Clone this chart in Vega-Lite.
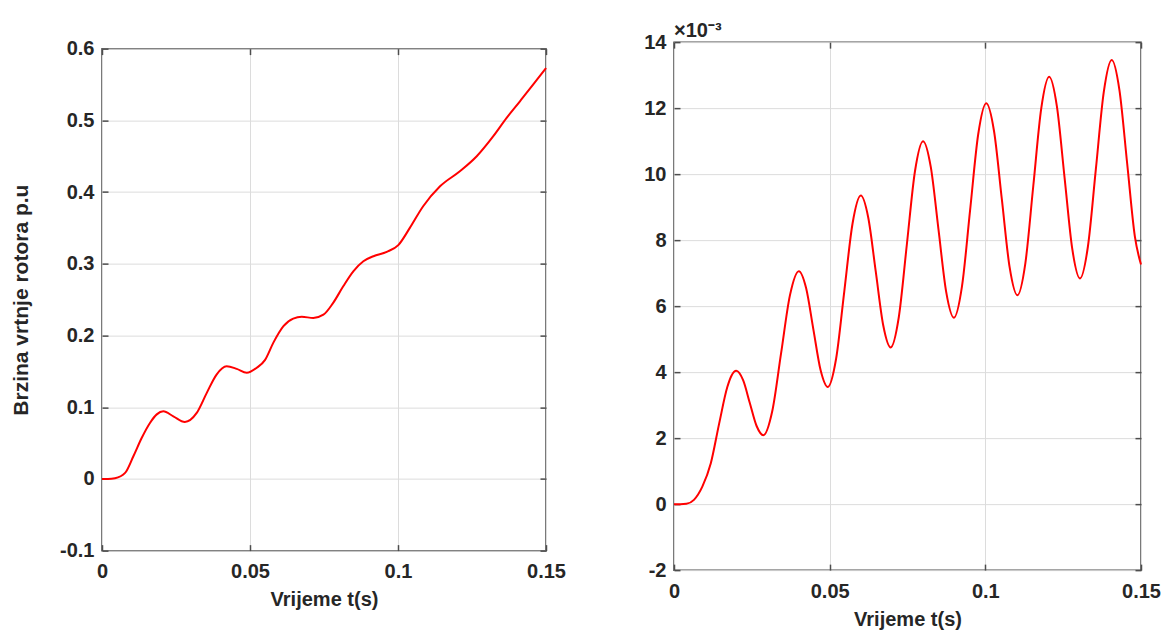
{
  "$schema": "https://vega.github.io/schema/vega-lite/v6.json",
  "background": "white",
  "padding": {"left": 9, "top": 20, "right": 5, "bottom": 5},
  "center": true,
  "config": {
    "font": "Liberation Sans",
    "view": {"stroke": "#4d4d4d", "strokeWidth": 1.5},
    "title": {"fontSize": 20, "font": "Liberation Sans"},
    "axis": {
      "labelFont": "Liberation Sans", "labelFontWeight": "bold", "labelFontSize": 20, "labelColor": "#262626",
      "titleFont": "Liberation Sans", "titleFontWeight": "bold", "titleFontSize": 20, "titleColor": "#262626",
      "gridColor": "#dcdcdc", "gridWidth": 1, "domain": false,
      "tickColor": "#4d4d4d", "tickWidth": 1.5, "tickSize": -6
    }
  },
  "datasets": {
    "left": [
      {"t": 0, "v": 0}, {"t": 0.002, "v": 0}, {"t": 0.0044, "v": 0.001}, {"t": 0.0078, "v": 0.0084},
      {"t": 0.0106, "v": 0.0316}, {"t": 0.0134, "v": 0.057}, {"t": 0.0162, "v": 0.078}, {"t": 0.0185, "v": 0.09},
      {"t": 0.0207, "v": 0.0943}, {"t": 0.0241, "v": 0.0873}, {"t": 0.028, "v": 0.0795}, {"t": 0.032, "v": 0.092},
      {"t": 0.0354, "v": 0.12}, {"t": 0.0387, "v": 0.1455}, {"t": 0.0421, "v": 0.157}, {"t": 0.0455, "v": 0.1535},
      {"t": 0.0489, "v": 0.148}, {"t": 0.0523, "v": 0.155}, {"t": 0.0551, "v": 0.166}, {"t": 0.0579, "v": 0.19},
      {"t": 0.0613, "v": 0.213}, {"t": 0.0646, "v": 0.2236}, {"t": 0.0675, "v": 0.226}, {"t": 0.0714, "v": 0.2245},
      {"t": 0.0748, "v": 0.229}, {"t": 0.0781, "v": 0.2455}, {"t": 0.0815, "v": 0.2686}, {"t": 0.0849, "v": 0.2895},
      {"t": 0.0883, "v": 0.3035}, {"t": 0.0917, "v": 0.3105}, {"t": 0.0962, "v": 0.3166}, {"t": 0.1001, "v": 0.326},
      {"t": 0.104, "v": 0.35}, {"t": 0.1085, "v": 0.3802}, {"t": 0.1142, "v": 0.408}, {"t": 0.1209, "v": 0.429},
      {"t": 0.1266, "v": 0.45}, {"t": 0.1322, "v": 0.478}, {"t": 0.1367, "v": 0.5035}, {"t": 0.1412, "v": 0.5266},
      {"t": 0.1457, "v": 0.55}, {"t": 0.15, "v": 0.573}
    ],
    "right": [
      {"t": 0, "v": 0}, {"t": 0.002, "v": 0}, {"t": 0.004, "v": 0.01}, {"t": 0.0064, "v": 0.13},
      {"t": 0.0091, "v": 0.53}, {"t": 0.0118, "v": 1.23}, {"t": 0.0145, "v": 2.44}, {"t": 0.0171, "v": 3.54},
      {"t": 0.0185, "v": 3.9}, {"t": 0.02, "v": 4.04},
      {"t": 0.0222, "v": 3.755}, {"t": 0.02435, "v": 3.065}, {"t": 0.0265, "v": 2.375}, {"t": 0.0287, "v": 2.09},
      {"t": 0.03155, "v": 2.816}, {"t": 0.0344, "v": 4.575}, {"t": 0.03725, "v": 6.334}, {"t": 0.0401, "v": 7.06},
      {"t": 0.04243, "v": 6.548}, {"t": 0.04475, "v": 5.305}, {"t": 0.04708, "v": 4.062}, {"t": 0.0494, "v": 3.55},
      {"t": 0.05205, "v": 4.397}, {"t": 0.0547, "v": 6.45}, {"t": 0.05735, "v": 8.503}, {"t": 0.06, "v": 9.35},
      {"t": 0.0624, "v": 8.678}, {"t": 0.0648, "v": 7.05}, {"t": 0.0672, "v": 5.422}, {"t": 0.0696, "v": 4.75},
      {"t": 0.0722, "v": 5.663}, {"t": 0.0748, "v": 7.875}, {"t": 0.0774, "v": 10.088}, {"t": 0.08, "v": 11.0},
      {"t": 0.082475, "v": 10.219}, {"t": 0.08495, "v": 8.325}, {"t": 0.087425, "v": 6.431}, {"t": 0.0899, "v": 5.65},
      {"t": 0.0925, "v": 6.599}, {"t": 0.0951, "v": 8.9}, {"t": 0.0977, "v": 11.201}, {"t": 0.1003, "v": 12.15},
      {"t": 0.1028, "v": 11.3}, {"t": 0.1053, "v": 9.24}, {"t": 0.1078, "v": 7.18}, {"t": 0.1103, "v": 6.33},
      {"t": 0.11285, "v": 7.297}, {"t": 0.1154, "v": 9.64}, {"t": 0.11795, "v": 11.983}, {"t": 0.1205, "v": 12.95},
      {"t": 0.122975, "v": 12.058}, {"t": 0.12545, "v": 9.895}, {"t": 0.127925, "v": 7.732}, {"t": 0.1304, "v": 6.84},
      {"t": 0.13295, "v": 7.807}, {"t": 0.1355, "v": 10.15}, {"t": 0.13805, "v": 12.493}, {"t": 0.1406, "v": 13.46},
      {"t": 0.143075, "v": 12.546}, {"t": 0.14555, "v": 10.33}, {"t": 0.148025, "v": 8.114}, {"t": 0.15, "v": 7.26}
    ]
  },
  "spacing": 76,
  "hconcat": [
    {
      "width": 444, "height": 502,
      "data": {"name": "left"},
      "layer": [
        {
          "mark": {"type": "line", "color": "#ff0000", "strokeWidth": 2, "interpolate": "monotone"},
          "encoding": {
            "x": {"field": "t", "type": "quantitative", "scale": {"domain": [0, 0.15], "nice": false},
                  "axis": {"values": [0, 0.05, 0.1, 0.15], "labelExpr": "datum.value + ''", "title": ["Vrijeme t(s)", " "], "titleLineHeight": 13, "labelPadding": 17, "titlePadding": 8, "labelFlush": false}},
            "y": {"field": "v", "type": "quantitative", "scale": {"domain": [-0.1, 0.6], "nice": false, "zero": false},
                  "axis": {"values": [-0.1, 0, 0.1, 0.2, 0.3, 0.4, 0.5, 0.6], "labelExpr": "datum.value + ''", "title": "Brzina vrtnje rotora p.u", "labelPadding": 14, "titlePadding": 28, "titleFontSize": 21}}
          }
        },
        {
          "mark": {"type": "line", "opacity": 0},
          "encoding": {
            "x": {"field": "t", "type": "quantitative", "axis": {"orient": "top", "values": [0, 0.05, 0.1, 0.15], "labels": false, "grid": false, "title": null}},
            "y": {"field": "v", "type": "quantitative", "axis": {"orient": "right", "values": [-0.1, 0, 0.1, 0.2, 0.3, 0.4, 0.5, 0.6], "labels": false, "grid": false, "title": null}}
          }
        }
      ],
      "resolve": {"axis": {"x": "independent", "y": "independent"}}
    },
    {
      "width": 467, "height": 528,
      "title": {"text": "×10⁻³", "anchor": "start", "frame": "group", "fontSize": 20, "fontWeight": "bold", "color": "#262626", "offset": -9},
      "data": {"name": "right"},
      "layer": [
        {
          "mark": {"type": "line", "color": "#ff0000", "strokeWidth": 2, "interpolate": "monotone"},
          "encoding": {
            "x": {"field": "t", "type": "quantitative", "scale": {"domain": [0, 0.15], "nice": false},
                  "axis": {"values": [0, 0.05, 0.1, 0.15], "labelExpr": "datum.value + ''", "title": "Vrijeme t(s)", "labelPadding": 17, "titlePadding": 8, "labelFlush": false}},
            "y": {"field": "v", "type": "quantitative", "scale": {"domain": [-2, 14], "nice": false, "zero": false},
                  "axis": {"values": [-2, 0, 2, 4, 6, 8, 10, 12, 14], "labelExpr": "datum.value + ''", "title": null, "labelPadding": 14}}
          }
        },
        {
          "mark": {"type": "line", "opacity": 0},
          "encoding": {
            "x": {"field": "t", "type": "quantitative", "axis": {"orient": "top", "values": [0, 0.05, 0.1, 0.15], "labels": false, "grid": false, "title": null}},
            "y": {"field": "v", "type": "quantitative", "axis": {"orient": "right", "values": [-2, 0, 2, 4, 6, 8, 10, 12, 14], "labels": false, "grid": false, "title": null}}
          }
        }
      ],
      "resolve": {"axis": {"x": "independent", "y": "independent"}}
    }
  ]
}
